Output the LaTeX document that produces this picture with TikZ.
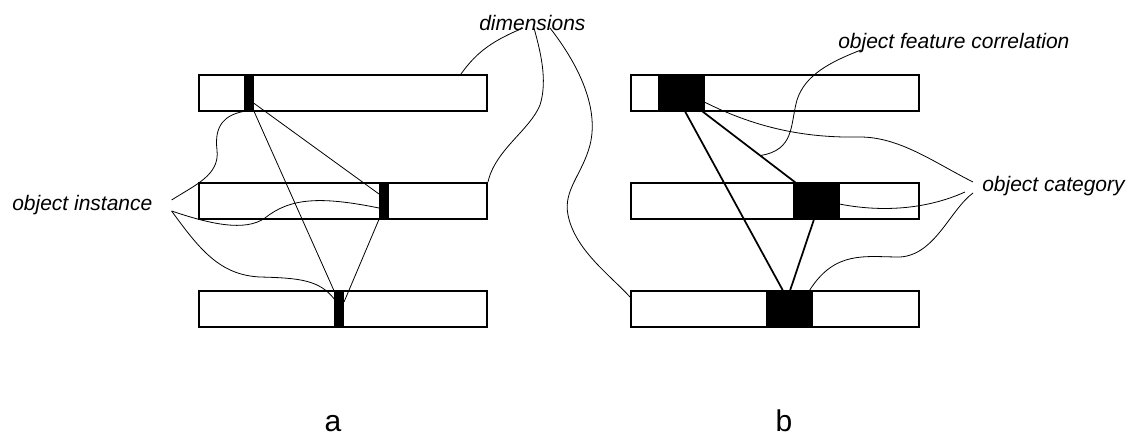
\documentclass[tikz,border=0pt]{standalone}
\usepackage{fontspec}
\setmainfont{Liberation Sans}
\usepackage{tikz}
\usetikzlibrary{calc,positioning}

\tikzset{
  dimbar/.style={draw, line width=1.5pt, minimum width=216pt, minimum height=27pt, inner sep=0pt},
  instmark/.style={draw, fill=black, line width=0.5pt, minimum width=7pt, minimum height=27pt, inner sep=0pt},
  catmark/.style={draw, fill=black, line width=0.5pt, minimum width=34.5pt, minimum height=27pt, inner sep=0pt},
  lbl/.style={inner sep=0pt, font=\fontsize{15.75}{18}\selectfont\itshape},
  caplbl/.style={inner sep=0pt, font=\fontsize{22.5}{26}\selectfont},
  thinline/.style={line width=0.6pt},
  thickline/.style={line width=1.3pt}
}

\begin{document}
\begin{tikzpicture}[x=0.75pt,y=0.75pt,yscale=-1,xscale=1]
\useasboundingbox (0,0) rectangle (1129,436);

%Bars, panel a
\node [dimbar] (rowa1) at (343,93) {};
\node [dimbar] (rowa2) at (343,201) {};
\node [dimbar] (rowa3) at (343,309) {};
%Bars, panel b
\node [dimbar] (rowb1) at (775,93) {};
\node [dimbar] (rowb2) at (775,201) {};
\node [dimbar] (rowb3) at (775,309) {};

%Instance marks
\node [instmark] (insta1) at (249,93) {};
\node [instmark] (insta2) at (384,201) {};
\node [instmark] (insta3) at (339,309) {};
%Category blocks
\node [catmark] (catb1) at (681,93) {};
\node [catmark] (catb2) at (816,201) {};
\node [catmark] (catb3) at (789,309) {};

% Text Node
\node [lbl, anchor=base west] (dimlbl) at (479,30) {dimensions};
% Text Node
\node [lbl, anchor=base west] (corrlbl) at (838,48) {object feature correlation};
% Text Node
\node [lbl, anchor=base west] (instlbl) at (12,210) {object instance};
% Text Node
\node [lbl, anchor=base west] (catlbl) at (982,191) {object category};
% Text Node
\node [caplbl, anchor=base] (lbla) at (333,431) {a};
% Text Node
\node [caplbl, anchor=base] (lblb) at (784,431) {b};

%ends of the pointers at the labels
\coordinate (dimA) at ($(dimlbl.base west)+(44,-2)$);
\coordinate (dimB) at ($(dimlbl.base west)+(55,-2)$);
\coordinate (dimC) at ($(dimlbl.base west)+(71,-2)$);
\coordinate (corrA) at ($(corrlbl.base west)+(23,2)$);
\coordinate (instA) at ($(instlbl.base east)+(19,-10)$);
\coordinate (instB) at ($(instlbl.base east)+(19,1)$);
\coordinate (catA) at ($(catlbl.base west)+(-9,-9)$);
\coordinate (catB) at ($(catlbl.base west)+(-17,1)$);
\coordinate (catC) at ($(catlbl.base west)+(-9,2)$);
\coordinate (linkTop) at ($(catb1.south east)+(-2,0)$);
\coordinate (linkBot) at ($(catb2.north west)+(3,0)$);

%Straight Lines
\draw [thinline] ($(insta1.south east)+(0,-8)$) -- ($(insta2.west)+(0,-7)$);
\draw [thinline] (insta1.south east) -- (insta3.north west);
\draw [thinline] (insta2.south west) -- ($(insta3.east)+(0,-7)$);
%Straight Lines
\draw [thickline] ($(catb1.south)+(4,0)$) -- ($(catb3.north)+(-6,0)$);
\draw [thickline] (linkTop) -- (linkBot);
\draw [thickline] ($(catb2.south)+(-2,0)$) -- ($(catb3.north)+(1,0)$);

%Curve Lines
\draw [thinline] (dimA) .. controls (495,40) and (478,50) .. ($(rowa1.north east)+(-27,0)$);
\draw [thinline] (dimB) .. controls (540,50) and (548,80) .. (540,105) .. controls (530,130) and (495,150) .. (rowa2.north east);
\draw [thinline] (dimC) .. controls (575,60) and (600,105) .. (590,145) .. controls (582,175) and (563,190) .. (568,215) .. controls (575,250) and (610,275) .. ($(rowb3.west)+(0,-12)$);
%Curve Lines
\draw [thinline] (corrA) .. controls (830,62) and (805,75) .. (797,100) .. controls (790,125) and (795,150) .. ($(linkTop)!0.62!(linkBot)$);
%Curve Lines
\draw [thinline] (instA) .. controls (195,185) and (220,175) .. (217,150) .. controls (214,125) and (225,115) .. (insta1.south west);
\draw [thinline] (instB) .. controls (210,224) and (245,232) .. (265,218) .. controls (290,198) and (320,196) .. ($(insta2.west)+(0,7)$);
\draw [thinline] (instB) .. controls (200,250) and (220,275) .. (260,277) .. controls (300,278) and (320,280) .. ($(insta3.west)+(1,-9)$);
%Curve Lines
\draw [thinline] (catA) .. controls (935,163) and (900,137) .. (860,137) .. controls (810,138) and (760,130) .. ($(catb1.east)+(0,9)$);
\draw [thinline] (catB) .. controls (925,210) and (880,212) .. ($(catb2.east)+(0,3)$);
\draw [thinline] (catC) .. controls (950,210) and (935,255) .. (900,257) .. controls (865,257) and (835,250) .. ($(catb3.north east)+(-3,0)$);

\end{tikzpicture}
\end{document}
